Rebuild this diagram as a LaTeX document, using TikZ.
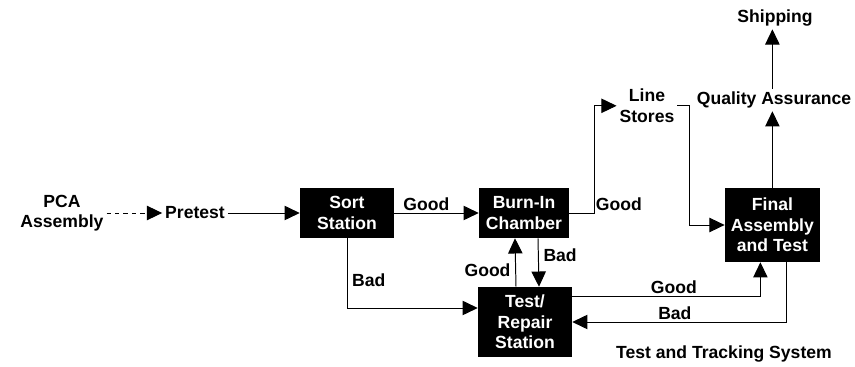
\documentclass[tikz,border=0pt]{standalone}
\usepackage{fontspec}
\setmainfont{Liberation Sans}
\usepackage{tikz}
\usetikzlibrary{positioning,arrows.meta}

\begin{document}
\begin{tikzpicture}[
  >={Triangle[length=0.38cm, width=0.36cm]},
  every node/.style={font=\fontsize{12.5}{14.5}\selectfont\bfseries},
  stn/.style={fill=black, text=white, inner sep=0pt, align=center},
  lab/.style={align=center, inner sep=2pt},
  arr/.style={->, line width=0.7pt}
]
  \useasboundingbox (0,0) rectangle (21.375,9.175);

  % Stations
  \node[lab] (PCA) at (1.55,3.85) {PCA\\Assembly};
  \node[lab] (Pre) at (4.875,3.85) {Pretest};
  \node[stn, minimum width=2.35cm, minimum height=1.25cm] (Sort) at (8.675,3.85) {Sort\\Station};
  \node[stn, minimum width=2.25cm, minimum height=1.25cm] (Burn) at (13.1,3.85) {Burn-In\\Chamber};
  \node[stn, minimum width=2.35cm, minimum height=1.75cm] (Test) at (13.125,1.125) {Test/\\Repair\\Station};
  \node[stn, minimum width=2.375cm, minimum height=1.85cm] (Final) at (19.31,3.55) {Final\\Assembly\\and Test};
  \node[lab] (LS) at (16.175,6.53) {Line\\Stores};
  \node[lab] (QA) at (19.35,6.675) {Quality Assurance};
  \node[lab] (Ship) at (19.375,8.725) {Shipping};
  \node[lab] (TTS) at (18.1,0.325) {Test and Tracking System};

  \coordinate (gcorner) at (14.85,3.85);

  \draw[arr, dashed] (PCA.east) -- (Pre.west);
  \draw[arr] (Pre.east) -- (Sort.west);
  \draw[arr] (Sort.east) -- node[pos=0.38, above, inner sep=1pt] {Good} (Burn.west);
  \draw[arr] (Sort.south) |- node[pos=0.3, right] {Bad} ([yshift=0.35cm]Test.west);
  \draw[arr] ([xshift=-0.225cm]Test.north) -- node[pos=0.35, left] {Good} ([xshift=-0.225cm]Burn.south);
  \draw[arr] ([xshift=0.35cm]Burn.south) -- node[pos=0.35, right] {Bad} ([xshift=0.35cm]Test.north);
  \draw[arr] (Burn.east) -- (gcorner) node[above right, inner sep=1pt] {Good} |- (LS.west);
  \draw[arr] (LS.east) -- ++(0.3,0) |- (Final.west);
  \draw[arr] (Final.north) -- (Final.north |- QA.south);
  \draw[arr] (Final.north |- QA.north) -- (Final.north |- Ship.south);
  \draw[arr] ([yshift=0.65cm]Test.east) -| node[pos=0.27, above, inner sep=1pt] {Good} ([xshift=-0.3cm]Final.south);
  \draw[arr] ([xshift=0.34cm]Final.south) |- node[pos=0.76, above, inner sep=1pt] {Bad} (Test.east);
\end{tikzpicture}
\end{document}
